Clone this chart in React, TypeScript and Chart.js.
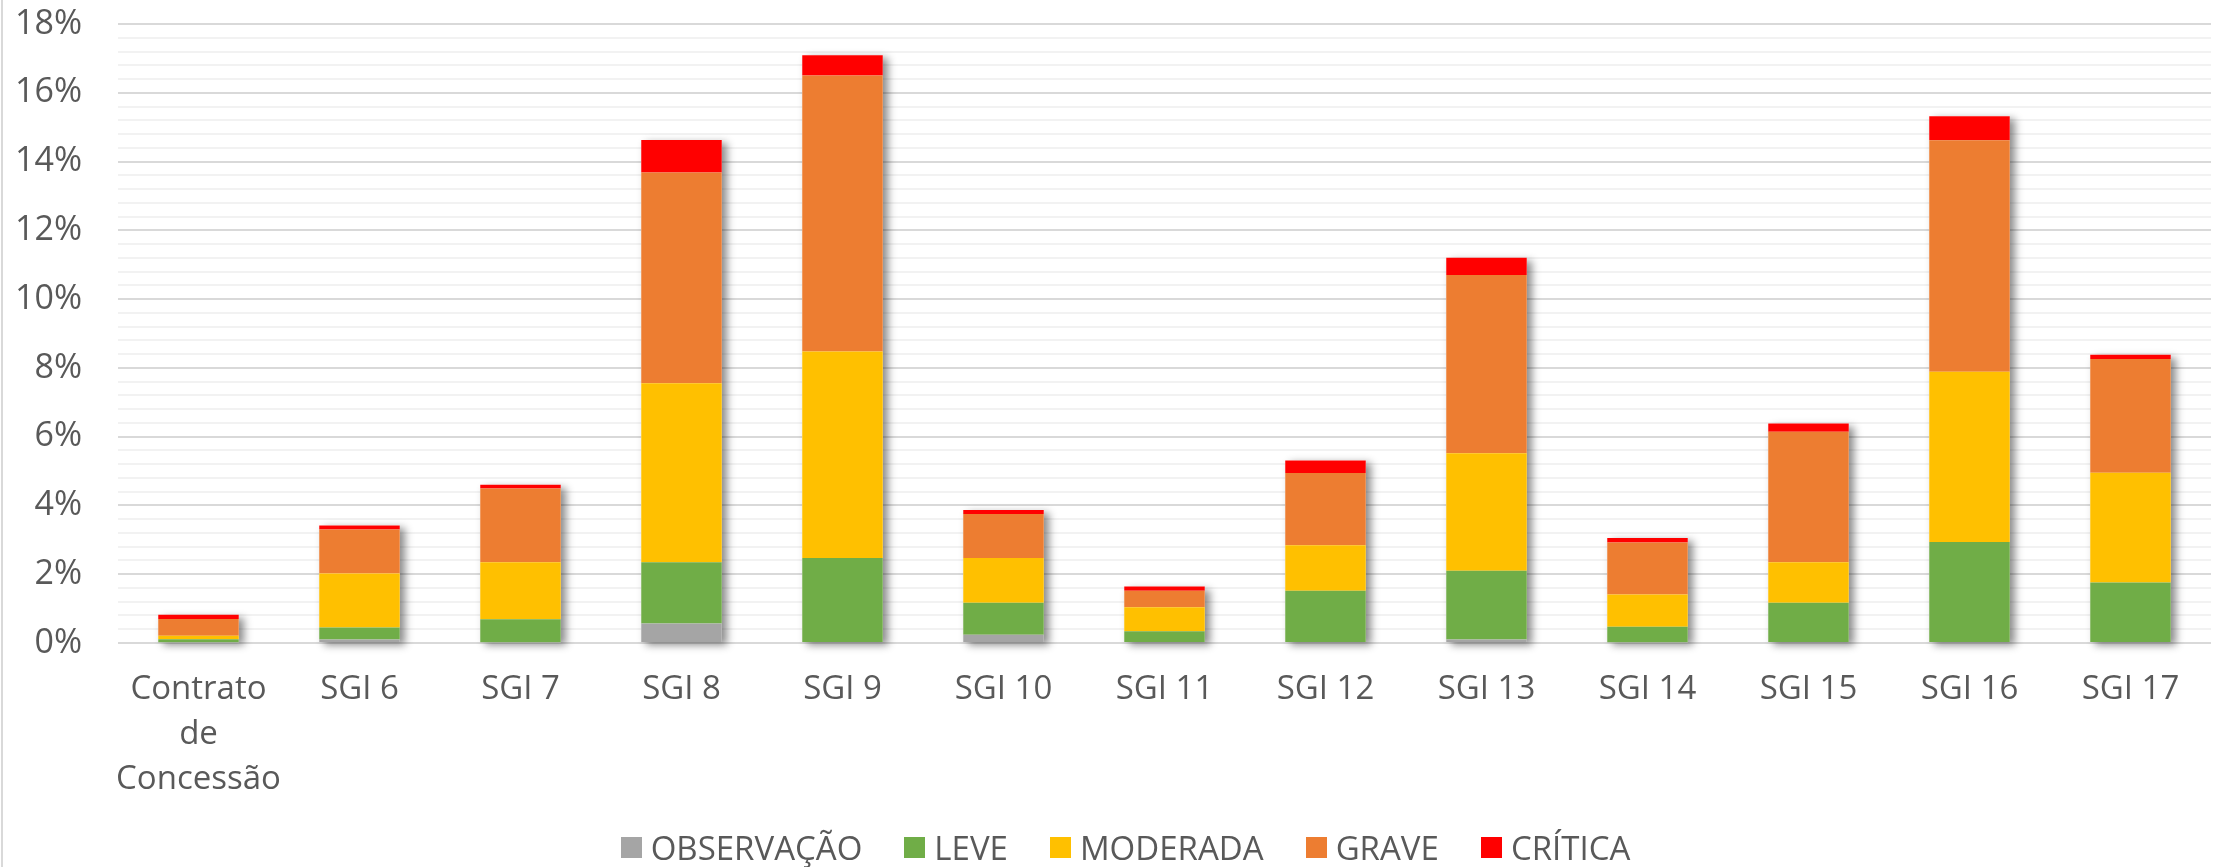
import React, { useEffect, useRef } from "react";
import { Chart, registerables } from "chart.js";

Chart.register(...registerables);

const categories: (string | string[])[] = [
  ["Contrato", "de", "Concessão"],
  "SGI 6", "SGI 7", "SGI 8", "SGI 9", "SGI 10", "SGI 11",
  "SGI 12", "SGI 13", "SGI 14", "SGI 15", "SGI 16", "SGI 17",
];

// values in percent
const observacao = [0.02, 0.1, 0.02, 0.57, 0, 0.24, 0, 0, 0.1, 0.02, 0, 0, 0];
const leve = [0.09, 0.35, 0.67, 1.78, 2.47, 0.93, 0.34, 1.52, 2.0, 0.45, 1.17, 2.94, 1.76];
const moderada = [0.1, 1.57, 1.66, 5.2, 6.01, 1.3, 0.7, 1.32, 3.42, 0.94, 1.18, 4.95, 3.19];
const grave = [0.49, 1.28, 2.14, 6.13, 8.02, 1.28, 0.48, 2.1, 5.18, 1.51, 3.79, 6.73, 3.31];
const critica = [0.12, 0.12, 0.11, 0.95, 0.59, 0.12, 0.12, 0.37, 0.5, 0.13, 0.24, 0.7, 0.12];

const seriesNames = ["OBSERVAÇÃO", "LEVE", "MODERADA", "GRAVE", "CRÍTICA"];
const seriesColors = ["#a5a5a5", "#70ad47", "#ffc000", "#ed7d31", "#ff0000"];
const seriesValues = [observacao, leve, moderada, grave, critica];

const yMax = 18;
const yMajorStep = 2;
const yMinorStep = 0.4;

const FONT = "'Open Sans', sans-serif";
const TEXT = "#595959";

const isMajor = (v: number) => Math.abs(v / yMajorStep - Math.round(v / yMajorStep)) < 1e-6;

const shadowPlugin = {
  id: "barShadow",
  beforeDatasetsDraw(chart: any) {
    const ctx = chart.ctx;
    const n = chart.data.labels.length;
    ctx.save();
    ctx.shadowColor = "rgba(0,0,0,0.45)";
    ctx.shadowBlur = 8;
    ctx.shadowOffsetX = 5;
    ctx.shadowOffsetY = 3;
    ctx.fillStyle = "#ffffff";
    for (let i = 0; i < n; i++) {
      let top = Infinity, bottom = -Infinity, left = 0, right = 0;
      chart.data.datasets.forEach((ds: any, di: number) => {
        const el = chart.getDatasetMeta(di).data[i];
        if (!el || !ds.data[i]) return;
        const p = el.getProps(["x", "y", "base", "width"], true);
        top = Math.min(top, p.y, p.base);
        bottom = Math.max(bottom, p.y, p.base);
        left = p.x - p.width / 2;
        right = p.x + p.width / 2;
      });
      if (top < bottom) ctx.fillRect(left, top, right - left, bottom - top);
    }
    ctx.restore();
  },
};

// y tick labels drawn right-aligned at a fixed distance left of the plot area
const yLabelPlugin = {
  id: "yLabels",
  afterDraw(chart: any) {
    const ctx = chart.ctx;
    const y = chart.scales.y;
    ctx.save();
    ctx.fillStyle = TEXT;
    ctx.font = `34px ${FONT}`;
    ctx.textAlign = "right";
    ctx.textBaseline = "middle";
    y.ticks.forEach((t: any) => {
      if (!isMajor(t.value)) return;
      ctx.fillText(Math.round(t.value) + "%", chart.chartArea.left - 36, y.getPixelForValue(t.value));
    });
    ctx.restore();
  },
};

export default function App() {
  const ref = useRef<HTMLCanvasElement | null>(null);

  useEffect(() => {
    document.body.style.margin = "0";
    const canvas = ref.current;
    if (!canvas) return;
    const chart = new Chart(canvas, {
      type: "bar",
      data: {
        labels: categories as any,
        datasets: seriesNames.map((name, i) => ({
          label: name,
          data: seriesValues[i],
          backgroundColor: seriesColors[i],
          borderWidth: 0,
          barPercentage: 0.5,
          categoryPercentage: 1,
        })),
      },
      options: {
        responsive: false,
        animation: false,
        layout: { padding: { top: 24, right: 8, left: 0, bottom: 0 } },
        plugins: { legend: { display: false }, tooltip: { enabled: false } },
        scales: {
          x: {
            stacked: true,
            grid: { display: false, drawTicks: false },
            border: { display: false },
            ticks: {
              color: TEXT,
              font: { family: FONT, size: 33, lineHeight: 1.36 },
              padding: 24,
              maxRotation: 0,
              autoSkip: false,
            },
            afterFit: (s: any) => { s.height = 224; },
          },
          y: {
            stacked: true,
            min: 0,
            max: yMax,
            border: { display: false },
            grid: {
              drawTicks: false,
              lineWidth: 2,
              color: (c: any) => (isMajor(c.tick.value) ? "#d9d9d9" : "#f2f2f2"),
            },
            ticks: {
              stepSize: yMinorStep,
              autoSkip: false,
              display: false,
            },
            afterFit: (s: any) => { s.width = 118; },
          },
        },
      },
      plugins: [shadowPlugin, yLabelPlugin],
    });
    return () => chart.destroy();
  }, []);

  return (
    <div style={{ position: "relative", width: 2219, height: 867, background: "#fff", overflow: "hidden" }}>
      <canvas ref={ref} width={2219} height={867} style={{ display: "block" }} />
      <div style={{ position: "absolute", left: 1, top: 0, width: 2, height: 867, background: "#d9d9d9" }} />
      <div
        style={{
          position: "absolute",
          left: 0,
          width: 2251,
          top: 822,
          height: 50,
          display: "flex",
          justifyContent: "center",
          alignItems: "center",
          fontFamily: FONT,
          fontSize: 33,
          color: TEXT,
          whiteSpace: "nowrap",
        }}
      >
        {seriesNames.map((name, i) => (
          <div key={name} style={{ display: "flex", alignItems: "center", marginRight: i < seriesNames.length - 1 ? 42 : 0 }}>
            <span style={{ display: "inline-block", width: 21, height: 21, background: seriesColors[i], marginRight: 9 }} />
            <span>{name}</span>
          </div>
        ))}
      </div>
    </div>
  );
}
